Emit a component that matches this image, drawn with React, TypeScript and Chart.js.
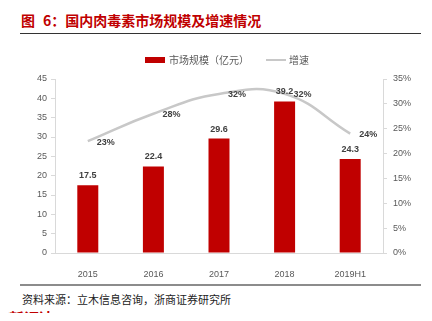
import React, { useEffect, useRef } from "react";
import { Chart, registerables } from "chart.js";

Chart.register(...registerables);

const categories = ["2015", "2016", "2017", "2018", "2019H1"];
const marketSize = [17.5, 22.4, 29.6, 39.2, 24.3];
const growth = [0.225, 0.28, 0.32, 0.32, 0.24];
const growthLabels = ["23%", "28%", "32%", "32%", "24%"];
const leftTicks = [0, 5, 10, 15, 20, 25, 30, 35, 40, 45];
const rightTicks = [0, 0.05, 0.1, 0.15, 0.2, 0.25, 0.3, 0.35];

const RED = "#C00000";
const GRAY_LINE = "#C8C8C8";
const AXIS = "#D9D9D9";
const TICK_TXT = "#595959";
const FONT = "'Liberation Sans', Arial, sans-serif";
const CJK = "'Noto Sans CJK SC', sans-serif";

const labelPlugin = {
  id: "valueLabels",
  afterDatasetsDraw(chart: any) {
    const ctx = chart.ctx;
    ctx.save();
    ctx.font = `bold 9px ${FONT}`;
    ctx.fillStyle = "#404040";
    const barMeta = chart.getDatasetMeta(0);
    barMeta.data.forEach((el: any, i: number) => {
      ctx.textAlign = "center";
      ctx.textBaseline = "bottom";
      ctx.fillText(marketSize[i].toFixed(1), el.x, el.y - 5);
    });
    const lineMeta = chart.getDatasetMeta(1);
    lineMeta.data.forEach((el: any, i: number) => {
      ctx.textAlign = "left";
      ctx.textBaseline = "middle";
      ctx.fillText(growthLabels[i], el.x + 9, el.y + 1);
    });
    ctx.restore();
  },
};

function ChartBox() {
  const ref = useRef<HTMLCanvasElement>(null);
  useEffect(() => {
    if (!ref.current) return;
    const chart = new Chart(ref.current, {
      type: "bar",
      data: {
        labels: categories,
        datasets: [
          {
            type: "bar",
            label: "市场规模（亿元）",
            data: marketSize,
            backgroundColor: RED,
            borderWidth: 0,
            categoryPercentage: 1,
            barPercentage: 0.32,
            yAxisID: "y",
            order: 2,
          },
          {
            type: "line",
            label: "增速",
            data: growth,
            borderColor: GRAY_LINE,
            borderWidth: 2.5,
            pointRadius: 0,
            tension: 0.45,
            fill: false,
            yAxisID: "y1",
            order: 1,
          } as any,
        ],
      },
      options: {
        animation: false,
        responsive: false,
        maintainAspectRatio: false,
        layout: { padding: { top: 39, left: 0, right: 0, bottom: 0 } },
        plugins: { legend: { display: false }, tooltip: { enabled: false } },
        scales: {
          x: {
            grid: { display: false },
            border: { display: true, color: AXIS, width: 1 },
            ticks: { color: TICK_TXT, font: { family: FONT, size: 9 }, padding: 8 },
            afterFit(s: any) {
              s.height = 27;
            },
          },
          y: {
            position: "left",
            min: 0,
            max: 45,
            afterBuildTicks(s: any) {
              s.ticks = leftTicks.map((v) => ({ value: v }));
            },
            grid: { drawOnChartArea: false, drawTicks: true, tickLength: 4, color: AXIS },
            border: { display: true, color: AXIS },
            ticks: { color: TICK_TXT, font: { family: FONT, size: 9 }, padding: 4 },
            afterFit(s: any) {
              s.width = 55;
            },
          },
          y1: {
            position: "right",
            min: 0,
            max: 0.35,
            afterBuildTicks(s: any) {
              s.ticks = rightTicks.map((v) => ({ value: v }));
            },
            grid: { drawOnChartArea: false, drawTicks: true, tickLength: 4, color: AXIS },
            border: { display: true, color: AXIS },
            ticks: {
              color: TICK_TXT,
              font: { family: FONT, size: 9 },
              padding: 6,
              callback: (v: any) => Math.round(Number(v) * 100) + "%",
            },
            afterFit(s: any) {
              s.width = 49;
            },
          },
        },
      },
      plugins: [labelPlugin],
    });
    return () => chart.destroy();
  }, []);
  return (
    <canvas
      ref={ref}
      width={432}
      height={240}
      style={{ position: "absolute", left: 0, top: 40, width: 432, height: 240 }}
    />
  );
}

export default function App() {
  return (
    <div
      style={{
        position: "relative",
        width: 432,
        height: 321,
        margin: -8,
        overflow: "hidden",
        background: "#fff",
        fontFamily: CJK,
      }}
    >
      <div
        style={{
          position: "absolute",
          left: 21,
          top: 11,
          fontSize: 14,
          fontWeight: 700,
          color: RED,
          whiteSpace: "pre",
          lineHeight: "18px",
        }}
      >
        <span>图</span>
        <span style={{ marginLeft: 8 }}>6：国内肉毒素市场规模及增速情况</span>
      </div>
      <div style={{ position: "absolute", left: 20, top: 33, width: 401, height: 1, background: "#333" }} />
      <ChartBox />
      <div
        style={{
          position: "absolute",
          left: 0,
          width: 432,
          top: 53,
          display: "flex",
          justifyContent: "center",
          alignItems: "center",
          fontSize: 10,
          color: "#595959",
          lineHeight: "14px",
          paddingLeft: 22,
          boxSizing: "border-box",
        }}
      >
        <span style={{ display: "inline-block", width: 20, height: 6, background: RED, marginRight: 4 }} />
        <span>市场规模（亿元）</span>
        <span style={{ display: "inline-block", width: 20, height: 2, background: GRAY_LINE, marginLeft: 17, marginRight: 3 }} />
        <span>增速</span>
      </div>
      <div style={{ position: "absolute", left: 20, top: 284, width: 401, height: 2, background: "#8C8C8C" }} />
      <div
        style={{
          position: "absolute",
          left: 22,
          top: 291,
          fontSize: 11,
          color: "#222",
          whiteSpace: "nowrap",
          lineHeight: "16px",
        }}
      >
        资料来源：立木信息咨询，浙商证券研究所
      </div>
      <div
        style={{
          position: "absolute",
          left: -6,
          top: 309,
          fontSize: 15,
          fontWeight: 700,
          color: RED,
          whiteSpace: "nowrap",
          lineHeight: "18px",
        }}
      >
        宏新证达
      </div>
    </div>
  );
}
